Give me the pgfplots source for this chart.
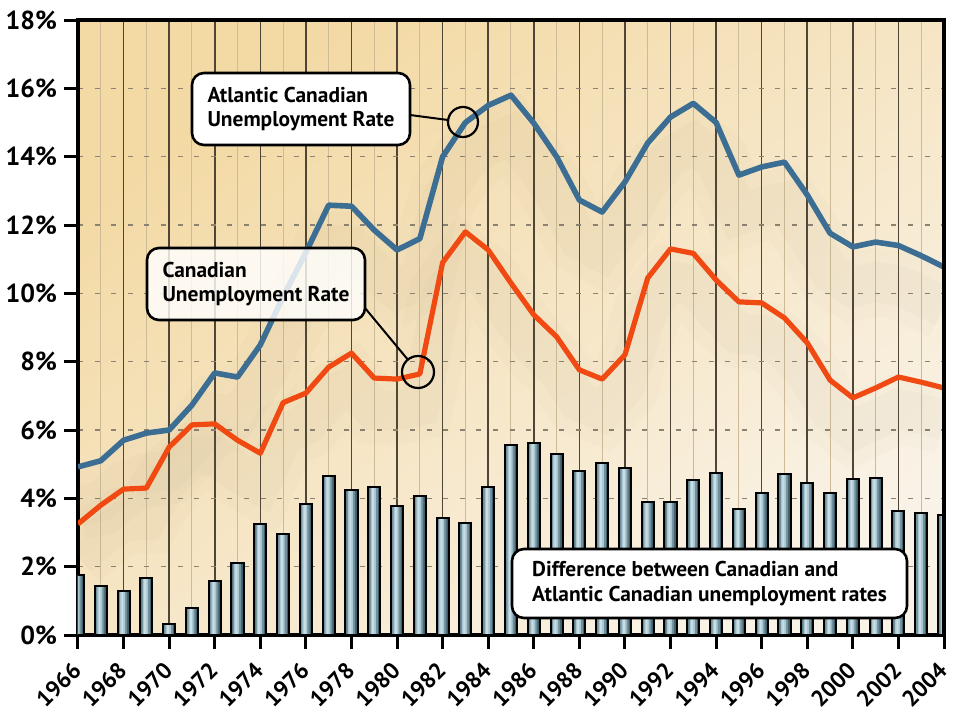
\documentclass[border=0pt]{standalone}
\usepackage{pgfplots}
\pgfplotsset{compat=1.18}
\usepackage{pgfplotstable}
\usepackage{fontspec}
\setmainfont{PT Sans}
\definecolor{bgGold}{HTML}{F3D9A3}
\definecolor{bgCream}{HTML}{F9F2E6}
\definecolor{atlBlue}{HTML}{3C6E93}
\definecolor{canOrange}{HTML}{F04A12}
\definecolor{barA}{HTML}{3F5F6B}
\definecolor{barB}{HTML}{6F909C}
\definecolor{barC}{HTML}{A9C6D1}
\definecolor{barD}{HTML}{C9DDE4}
\definecolor{gridDark}{HTML}{4E4536}
\definecolor{gridLight}{HTML}{CDBB98}
\definecolor{dashGray}{HTML}{8C8272}
\definecolor{shadowC}{HTML}{8A7A5E}
\pgfplotstableread{
year atl can diff
1966 4.92 3.25 1.76
1967 5.10 3.80 1.42
1968 5.70 4.27 1.30
1969 5.91 4.30 1.66
1970 6.00 5.50 0.33
1971 6.73 6.15 0.80
1972 7.67 6.18 1.59
1973 7.55 5.70 2.12
1974 8.49 5.32 3.25
1975 9.90 6.80 2.96
1976 11.20 7.08 3.83
1977 12.58 7.84 4.65
1978 12.55 8.25 4.24
1979 11.85 7.52 4.34
1980 11.27 7.49 3.78
1981 11.60 7.64 4.07
1982 14.00 10.90 3.43
1983 15.00 11.80 3.27
1984 15.50 11.27 4.34
1985 15.80 10.30 5.56
1986 14.98 9.37 5.61
1987 14.00 8.73 5.31
1988 12.73 7.76 4.80
1989 12.38 7.49 5.04
1990 13.26 8.20 4.88
1991 14.40 10.45 3.89
1992 15.16 11.30 3.89
1993 15.56 11.17 4.54
1994 15.00 10.39 4.74
1995 13.46 9.75 3.68
1996 13.70 9.72 4.16
1997 13.84 9.28 4.71
1998 12.88 8.55 4.45
1999 11.76 7.46 4.16
2000 11.36 6.94 4.57
2001 11.50 7.23 4.59
2002 11.40 7.55 3.63
2003 11.10 7.40 3.57
2004 10.77 7.23 3.51
}\data
\newcommand{\boxfont}{\fontsize{10.7}{12.4}\selectfont\bfseries}
\begin{document}
\begin{tikzpicture}
\useasboundingbox (-39pt,-39.5pt) rectangle (440pt,317.5pt);
\begin{axis}[
  at={(0,0)}, anchor=south west, scale only axis,
  width=433pt, height=307.5pt,
  xmin=1966, xmax=2004, ymin=0, ymax=18,
  xtick={1966,1968,...,2004},
  xticklabels={1966,1968,1970,1972,1974,1976,1978,1980,1982,1984,1986,1988,1990,1992,1994,1996,1998,2000,2002,2004},
  minor xtick={1967,1969,...,2003},
  ytick={0,2,...,18},
  yticklabels={0\%,2\%,4\%,6\%,8\%,10\%,12\%,14\%,16\%,18\%},
  xmajorgrids, xminorgrids, ymajorgrids,
  major x grid style={gridDark, line width=0.8pt},
  minor x grid style={gridLight, line width=0.5pt},
  major y grid style={dashGray, dash pattern=on 2.5pt off 5.8pt, line width=0.7pt},
  tick align=outside, major tick length=7pt, minor tick length=0pt,
  major tick style={black, line width=1.5pt},
  axis line style={line width=2.2pt},
  axis background/.style={top color=bgGold, bottom color=bgCream, shading angle=35},
  yticklabel style={font=\fontsize{13}{13}\selectfont\bfseries},
  xticklabel style={font=\fontsize{11.5}{11.5}\selectfont\bfseries, anchor=north east, inner sep=1pt, xshift=-3.5pt, yshift=-4pt, rotate=45},
  axis x line*=bottom, axis y line*=left,
  /pgf/number format/assume math mode=true,
]
% soft shadows under the lines
\addplot[shadowC, opacity=0.025, line width=34pt, yshift=-20pt] table[x=year,y=atl]{\data};
\addplot[shadowC, opacity=0.03, line width=20pt, yshift=-20pt] table[x=year,y=atl]{\data};
\addplot[shadowC, opacity=0.025, line width=34pt, yshift=-16pt] table[x=year,y=can]{\data};
\addplot[shadowC, opacity=0.03, line width=20pt, yshift=-16pt] table[x=year,y=can]{\data};
% bars (layered for a cylinder-like shading)
\addplot[ybar, bar width=0.53, bar shift=0, fill=barA, draw=none] table[x=year,y=diff]{\data};
\addplot[ybar, bar width=0.38, bar shift=-0.03, fill=barB, draw=none] table[x=year,y=diff]{\data};
\addplot[ybar, bar width=0.22, bar shift=-0.04, fill=barC, draw=none] table[x=year,y=diff]{\data};
\addplot[ybar, bar width=0.09, bar shift=-0.05, fill=barD, draw=none] table[x=year,y=diff]{\data};
\addplot[ybar, bar width=0.53, bar shift=0, fill=none, draw=black, line width=1pt] table[x=year,y=diff]{\data};
% lines
\addplot[atlBlue, line width=2.8pt, line join=round] table[x=year,y=atl]{\data};
\addplot[canOrange, line width=2.6pt, line join=round] table[x=year,y=can]{\data};
\end{axis}
% frame on top/right
\draw[line width=2.2pt] (-1.1pt,307.5pt) -- (433pt,307.5pt) -- (433pt,0pt);
% callouts
\draw[line width=1pt] (166pt,260pt) -- (185pt,257.5pt);
\draw[line width=1.1pt] (192.5pt,256.5pt) circle (7.5pt);
\node[draw=black, line width=1.3pt, rounded corners=6pt, fill=white,
  minimum width=109pt, minimum height=36pt, align=left,
  inner xsep=4pt, font=\boxfont] at (111.5pt,263pt) {Atlantic Canadian\\Unemployment Rate};
\draw[line width=1pt] (143.5pt,163.5pt) -- (164.9pt,137.7pt);
\draw[line width=1.1pt] (170pt,131.5pt) circle (8pt);
\node[draw=black, line width=1.3pt, rounded corners=6pt, fill=white, fill opacity=0.82, text opacity=1,
  minimum width=109pt, minimum height=36pt, align=left,
  inner xsep=4pt, font=\boxfont] at (89pt,175.5pt) {Canadian\\Unemployment Rate};
\node[draw=black, line width=1.3pt, rounded corners=6pt, fill=white,
  minimum width=197.5pt, minimum height=34.5pt, align=left,
  inner xsep=4pt, font=\boxfont] at (315.75pt,25.75pt) {Difference between Canadian and\\Atlantic Canadian unemployment rates};
\end{tikzpicture}
\end{document}
